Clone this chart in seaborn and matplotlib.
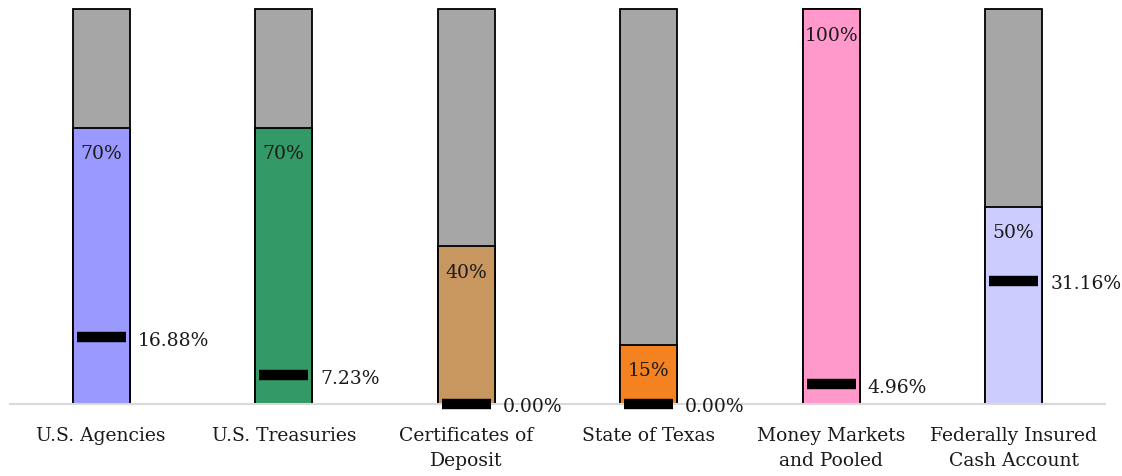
import pandas as pd
import numpy as np
import matplotlib
matplotlib.use("Agg")
import matplotlib.pyplot as plt
import seaborn as sns

categories = ["U.S. Agencies", "U.S. Treasuries", "Certificates of\nDeposit",
              "State of Texas", "Money Markets\nand Pooled", "Federally Insured\nCash Account"]
limits = [70, 70, 40, 15, 100, 50]
actuals = [16.88, 7.23, 0.00, 0.00, 4.96, 31.16]
limit_labels = ["70%", "70%", "40%", "15%", "100%", "50%"]
actual_labels = ["16.88%", "7.23%", "0.00%", "0.00%", "4.96%", "31.16%"]
colors = ["#9999FF", "#339966", "#C8965F", "#F58220", "#FF99CC", "#CCCCFF"]

sns.set_style("white")
plt.rcParams["font.family"] = ["DejaVu Serif", "Liberation Serif"]

df = pd.DataFrame({"category": categories, "limit": limits, "actual": actuals, "full": 100})

fig = plt.figure(figsize=(11.22, 4.77), dpi=100)
ax = fig.add_axes([10 / 1122, 72 / 477, 1095 / 1122, 395 / 477])

# grey background up to 100%
sns.barplot(data=df, x="category", y="full", color="#A6A6A6", width=0.31,
            saturation=1, edgecolor="black", linewidth=1.3, ax=ax)
# policy limit
sns.barplot(data=df, x="category", y="limit", hue="category", palette=colors,
            saturation=1, legend=False, width=0.31, edgecolor="black",
            linewidth=1.3, ax=ax)
for p in ax.patches:
    p.set_clip_on(False)

# actual holdings marker
x = np.arange(len(categories))
ax.hlines(actuals, x - 0.135, x + 0.135, colors="black", linewidth=7.5,
          clip_on=False, zorder=5)

for i in range(len(categories)):
    ax.text(i, limits[i] - 6.5, limit_labels[i], ha="center", va="center",
            fontsize=13.5, color="#1a1a1a")
    ax.text(i + 0.2, actuals[i] - 0.6, actual_labels[i], ha="left", va="center",
            fontsize=13.5, color="#1a1a1a", clip_on=False)

ax.set_xlim(-0.5, 5.5)
ax.set_ylim(0, 100)
ax.set_xlabel("")
ax.set_ylabel("")
ax.set_yticks([])
ax.tick_params(axis="x", length=0, labelsize=13.5, labelcolor="#1a1a1a", pad=16)
for lbl in ax.get_xticklabels():
    lbl.set_linespacing(1.5)
for s in ["top", "left", "right"]:
    ax.spines[s].set_visible(False)
ax.spines["bottom"].set_color("#D9D9D9")
ax.spines["bottom"].set_linewidth(1.5)

plt.savefig("out.png", dpi=100)
